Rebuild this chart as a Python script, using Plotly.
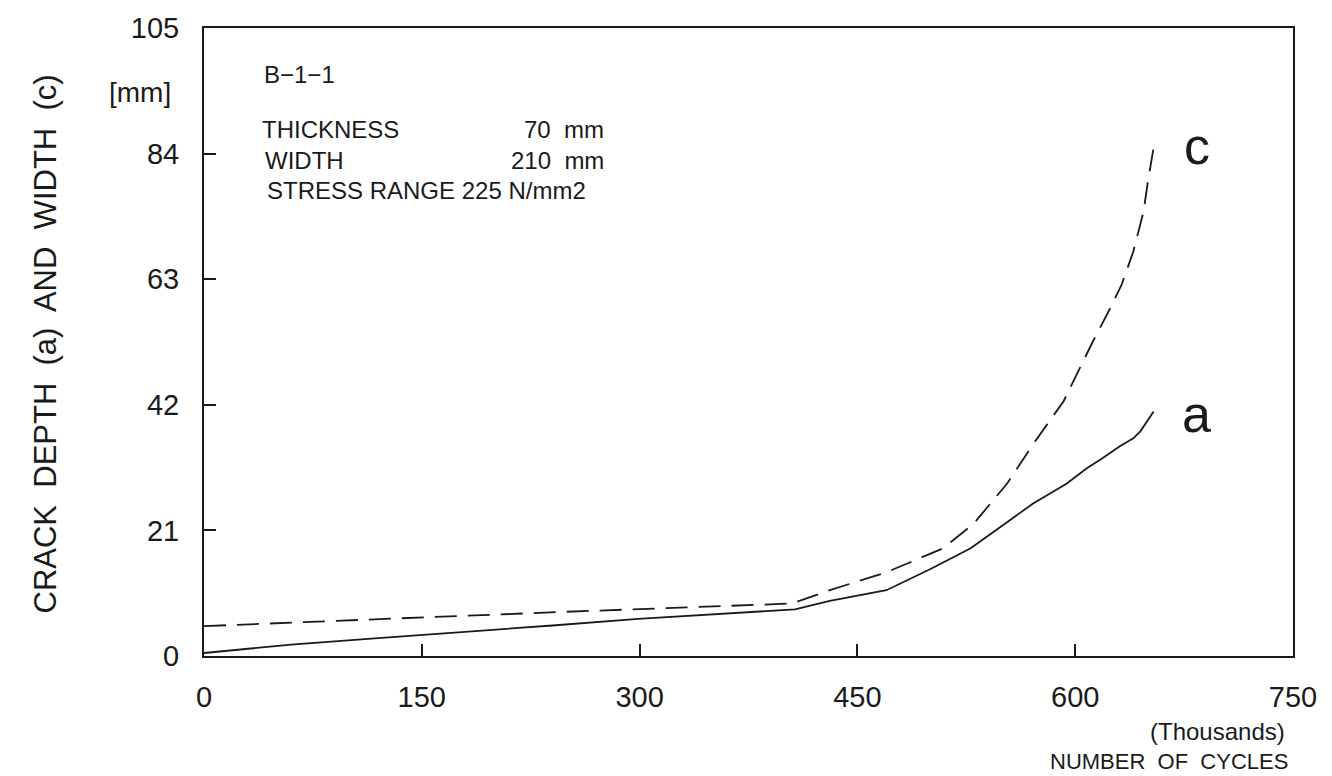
import plotly.graph_objects as go

# data (cycles in thousands, crack sizes in mm)
a_cycles = [0, 60, 120, 180, 240, 299, 360, 407, 431, 470, 500, 528, 548, 571, 594, 608, 619, 631, 640, 645, 654]
a_depth = [0.5, 1.9, 3.0, 4.0, 5.1, 6.2, 7.1, 7.8, 9.2, 11.0, 14.5, 18.0, 21.5, 25.5, 28.8, 31.4, 33.1, 35.1, 36.4, 37.6, 40.9]

c_cycles = [0, 121, 250, 397, 405, 431, 470, 509, 530, 553, 571, 592, 603, 612, 624, 632, 640, 647, 650, 654]
c_width = [5.0, 6.2, 7.4, 8.7, 8.8, 11.0, 14.0, 18.0, 22.1, 28.8, 35.4, 42.6, 48.1, 52.5, 58.1, 62.1, 67.6, 74.2, 79.2, 85.0]

x_ticks = [0, 150, 300, 450, 600, 750]
y_ticks = [0, 21, 42, 63, 84, 105]

FONT = "Liberation Sans"
INK = "#1a1a1a"

L, R, T, B = 204, 1293, 25, 656
W, H = 1332, 776

def px(xp):
    return (xp - L) / (R - L)

def py(yp):
    return (B - yp) / (B - T)

fig = go.Figure()
fig.add_trace(go.Scatter(x=a_cycles, y=a_depth, mode="lines",
                         line=dict(color=INK, width=1.8), name="a"))
fig.add_trace(go.Scatter(x=c_cycles, y=c_width, mode="lines",
                         line=dict(color=INK, width=1.8, dash="22px,11px"), name="c"))

fig.update_layout(
    width=W, height=H,
    margin=dict(l=L, r=W - R, t=T, b=H - B, pad=0),
    paper_bgcolor="white", plot_bgcolor="white",
    showlegend=False,
    font=dict(family=FONT, color=INK, size=29),
    xaxis=dict(range=[0, 750], tickvals=x_ticks, ticks="inside", ticklen=12,
               tickwidth=1.5, tickcolor=INK, showline=True, linecolor=INK,
               linewidth=2, mirror=True, showgrid=False, zeroline=False,
               ticklabelstandoff=14, tickfont=dict(size=29)),
    yaxis=dict(range=[0, 105], tickvals=y_ticks, ticks="inside", ticklen=12,
               tickwidth=1.5, tickcolor=INK, showline=True, linecolor=INK,
               linewidth=2, mirror=True, showgrid=False, zeroline=False,
               ticklabelstandoff=17, tickfont=dict(size=29)),
)

ann = []
def text(t, x, y, xanchor="left", size=24, angle=0):
    ann.append(dict(text=t, x=px(x), y=py(y), xref="paper", yref="paper",
                    xanchor=xanchor, yanchor="middle", showarrow=False,
                    textangle=angle, font=dict(size=size, family=FONT, color=INK)))

text("CRACK  DEPTH  (a)  AND  WIDTH  (c)", 45, 343, xanchor="center", size=31, angle=-90)
text("[mm]", 140, 90, xanchor="center", size=28)
text("(Thousands)", 1287, 732, xanchor="right", size=24)
text("NUMBER  OF  CYCLES", 1290, 762, xanchor="right", size=22)
text("B\u22121\u22121", 262, 72, size=24)
text("THICKNESS", 260, 127, size=24)
text("70  mm", 606, 127, xanchor="right", size=24)
text("WIDTH", 263, 158, size=24)
text("210  mm", 606, 158, xanchor="right", size=24)
text("STRESS RANGE 225 N/mm2", 265, 188, size=24)
text("c", 1197, 144, xanchor="center", size=52)
text("a", 1196, 413, xanchor="center", size=52)

fig.update_layout(annotations=ann)
fig.write_html("out.html")
